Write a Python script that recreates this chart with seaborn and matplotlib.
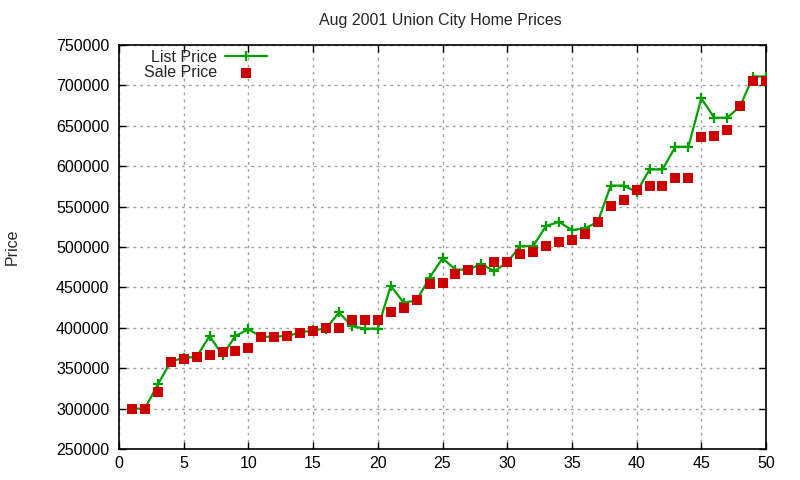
import matplotlib
matplotlib.use("Agg")
import matplotlib.pyplot as plt
import seaborn as sns
import pandas as pd
import numpy as np

x_vals = list(range(1, 51))
list_price = [300000, 300000, 330000, 358000, 363000, 364000, 390000, 366000, 390000, 398000,
              389000, 389000, 390000, 394000, 397000, 399000, 419000, 402000, 399000, 399000,
              452000, 431000, 434000, 462000, 486000, 472000, 472000, 479000, 470000, 481000,
              501000, 501000, 526000, 531000, 521000, 523000, 531000, 576000, 576000, 568000,
              596000, 596000, 624000, 624000, 684000, 660000, 660000, 674000, 711000, 711000]
sale_price = [300000, 300000, 321000, 358000, 362000, 364000, 366000, 370000, 371000, 375000,
              389000, 389000, 390000, 394000, 396000, 400000, 400000, 410000, 410000, 410000,
              420000, 425000, 435000, 454000, 456000, 467000, 471000, 471000, 481000, 481000,
              491000, 494000, 501000, 506000, 509000, 516000, 531000, 551000, 558000, 571000,
              576000, 576000, 586000, 586000, 636000, 637000, 645000, 675000, 705000, 705000]
title = "Aug 2001 Union City Home Prices"
y_label = "Price"
series_names = ["List Price", "Sale Price"]

df = pd.DataFrame({"x": x_vals, "list": list_price, "sale": sale_price})

sns.set_style("ticks")
plt.rcParams['font.family'] = ['Liberation Sans', 'DejaVu Sans']

fig = plt.figure(figsize=(8, 4.8), dpi=100)
ax = fig.add_axes([119/800, 1-449/480, (766-119)/800, (449-45)/480])

green = "#00A000"
red = "#CC0000"

sns.lineplot(data=df, x="x", y="list", ax=ax, color=green, linewidth=1.6,
             marker="+", markersize=7, markeredgewidth=1.6, markeredgecolor=green,
             label=series_names[0], zorder=3)
sns.scatterplot(data=df, x="x", y="sale", ax=ax, color=red, marker="s", s=48,
                linewidth=0, label=series_names[1], zorder=4)

ax.set_xlim(0, 50)
ax.set_ylim(250000, 750000)
ax.set_xticks(np.arange(0, 51, 5))
ax.set_yticks(np.arange(250000, 750001, 50000))
ax.set_yticklabels([str(v) for v in range(250000, 750001, 50000)])
ax.grid(True, color="#a0a0a0", linestyle=(0, (2, 3)), linewidth=1.0)
ax.tick_params(direction="in", length=5, width=1, top=True, right=True,
               labelsize=11.5, colors="black")
ax.tick_params(axis="y", pad=7)
ax.tick_params(axis="x", pad=5)
for s in ax.spines.values():
    s.set_linewidth(1.2)
    s.set_color("black")
    s.set_visible(True)

ax.set_xlabel("")
ax.set_ylabel("")
fig.text(12/800, 1-247/480, y_label, rotation=90, ha="center", va="center", fontsize=11.5)
fig.text(440/800, 1-20/480, title, ha="center", va="center", fontsize=11.5)

leg = ax.legend(loc="upper left", bbox_to_anchor=(0.2, 0.9),
                bbox_transform=fig.transFigure, frameon=False, markerfirst=False,
                fontsize=11.5, handlelength=2.6, labelspacing=0.0, borderpad=0.0,
                handletextpad=0.55)
fig.canvas.draw()
bb = leg.get_window_extent()
leg.set_bbox_to_anchor((259/800 - bb.width/800, 1-42/480), transform=fig.transFigure)

fig.savefig("out.png", dpi=100)
